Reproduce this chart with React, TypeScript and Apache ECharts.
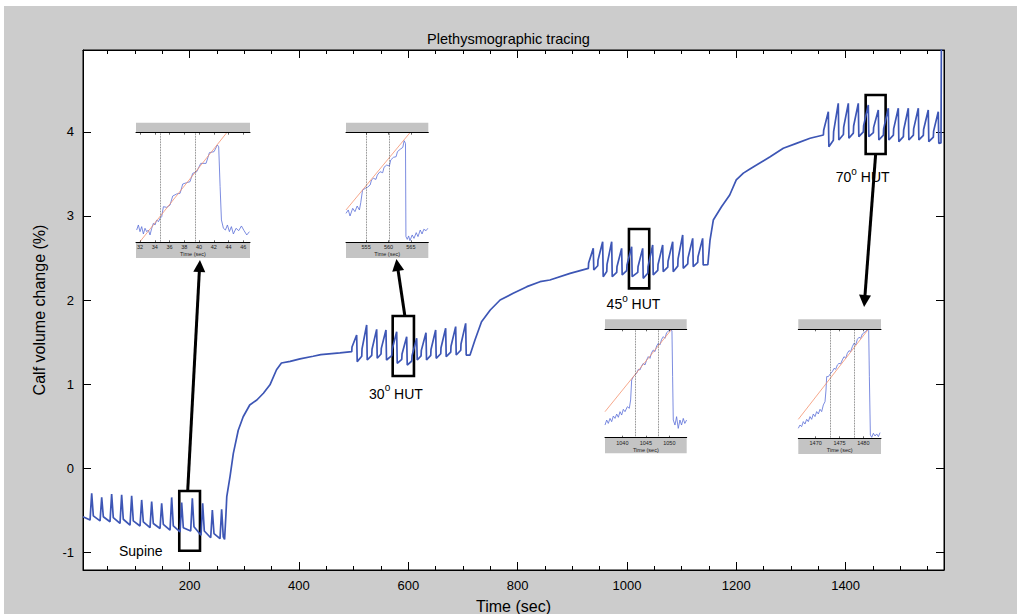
import React, { useEffect, useRef } from "react";
import * as echarts from "echarts";

type Pt = [number, number];

const FONT = "'Liberation Sans Narrow', 'Liberation Sans', Arial, sans-serif";
const FONT_REG = "'Liberation Sans', Arial, sans-serif";

// ---- main axes ----
const xRange: Pt = [5, 1580];
const yRange: Pt = [-1.214, 4.976];
const xTickLabels = [200, 400, 600, 800, 1000, 1200, 1400];
const xMinorStep = 50;
const xMinorRange: Pt = [50, 1580];
const yTickLabels = [-1, 0, 1, 2, 3, 4];

// ---- main trace (time s, calf volume change %) ----
const supineTrace: Pt[] = [
  [5, -0.58],
  [17.9, -0.62], [20.9, -0.30], [23.9, -0.57],
  [36.2, -0.63], [39.2, -0.35], [42.2, -0.58],
  [54.4, -0.64], [57.4, -0.31], [60.4, -0.59],
  [72.7, -0.66], [75.7, -0.32], [78.7, -0.61],
  [91.0, -0.68], [94.0, -0.33], [97.0, -0.63],
  [109.3, -0.69], [112.3, -0.38], [115.3, -0.64],
  [127.6, -0.71], [130.6, -0.40], [133.6, -0.66],
  [145.9, -0.72], [148.9, -0.42], [151.9, -0.67],
  [164.2, -0.74], [167.2, -0.35], [170.2, -0.69],
  [182.5, -0.76], [185.5, -0.41], [188.5, -0.71],
  [202.0, -0.75], [205.0, -0.36], [208.0, -0.70],
  [220.9, -0.80], [223.9, -0.42], [226.9, -0.75],
  [238.6, -0.83], [241.6, -0.50], [244.6, -0.78],
  [255.6, -0.84], [258.6, -0.49], [261.6, -0.82],
  [264.0, -0.85],
];
const riseTo30: Pt[] = [
  [266.5, -0.55], [268, -0.34], [274, -0.10], [280, 0.175], [289, 0.45], [298, 0.61], [310, 0.75],
  [323, 0.81], [335, 0.89], [347, 0.99], [359, 1.17], [368, 1.25], [384, 1.27], [402, 1.30],
  [426, 1.33], [440, 1.35], [475, 1.37], [496.6, 1.385],
];
const hut30Trace: Pt[] = [
  [497.1, 1.44], [505.6, 1.583], [506.6, 1.266],
  [514.9, 1.331], [515.4, 1.419], [523.9, 1.702], [524.9, 1.286],
  [533.2, 1.341], [533.7, 1.414], [542.2, 1.651], [543.2, 1.306],
  [550.2, 1.357], [550.7, 1.424], [559.2, 1.643], [560.2, 1.286],
  [569.8, 1.337], [570.3, 1.404], [578.8, 1.623], [579.8, 1.246],
  [588.1, 1.294], [588.6, 1.357], [597.1, 1.563], [598.1, 1.226],
  [606.4, 1.274], [606.9, 1.337], [615.4, 1.544], [616.4, 1.286],
  [623.4, 1.335], [623.9, 1.400], [632.4, 1.611], [633.4, 1.286],
  [641.1, 1.340], [641.6, 1.411], [650.1, 1.643], [651.1, 1.306],
  [659.4, 1.360], [659.9, 1.431], [668.4, 1.663], [669.4, 1.325],
  [677.7, 1.379], [678.2, 1.450], [686.7, 1.683], [687.7, 1.345],
  [696.0, 1.402], [696.5, 1.477], [705.0, 1.722], [706.0, 1.345],
];
const riseTo45: Pt[] = [
  [713, 1.345], [722, 1.524], [734, 1.742], [750, 1.881], [768, 2.0], [792, 2.08], [817, 2.159],
  [841, 2.218], [859, 2.238], [896, 2.317], [929.4, 2.377],
];
const hut45Trace: Pt[] = [
  [929.9, 2.44], [938.4, 2.615], [939.4, 2.357],
  [946.6, 2.408], [947.1, 2.475], [955.6, 2.694], [956.6, 2.278],
  [963.1, 2.340], [963.6, 2.424], [972.1, 2.694], [973.1, 2.278],
  [981.3, 2.329], [981.8, 2.396], [990.3, 2.615], [991.3, 2.298],
  [999.6, 2.349], [1000.1, 2.416], [1008.6, 2.635], [1009.6, 2.278],
  [1019.8, 2.329], [1020.3, 2.396], [1028.8, 2.615], [1029.8, 2.258],
  [1038.1, 2.318], [1038.6, 2.397], [1047.1, 2.655], [1048.1, 2.298],
  [1056.4, 2.352], [1056.9, 2.423], [1065.4, 2.655], [1066.4, 2.337],
  [1074.7, 2.391], [1075.2, 2.462], [1083.7, 2.694], [1084.7, 2.337],
  [1093.0, 2.403], [1093.5, 2.490], [1102.0, 2.774], [1103.0, 2.377],
  [1111.3, 2.431], [1111.8, 2.502], [1120.3, 2.734], [1121.3, 2.397],
  [1129.5, 2.448], [1130.0, 2.515], [1138.5, 2.734], [1139.5, 2.417],
];
const riseTo70: Pt[] = [
  [1148, 2.42], [1152, 2.714], [1158, 2.952], [1173, 3.11], [1188, 3.25], [1200, 3.43], [1213, 3.51],
  [1225, 3.56], [1237, 3.607], [1262, 3.706], [1286, 3.806], [1310, 3.865], [1335, 3.925], [1359.4, 3.964],
];
const hut70Trace: Pt[] = [
  [1359.9, 4.02], [1368.4, 4.242], [1369.4, 3.825],
  [1377.6, 3.902], [1378.1, 4.005], [1386.6, 4.341], [1387.6, 3.905],
  [1396.0, 3.970], [1396.5, 4.058], [1405.0, 4.341], [1406.0, 3.925],
  [1414.2, 3.987], [1414.7, 4.071], [1423.2, 4.341], [1424.2, 3.944],
  [1432.5, 4.001], [1433.0, 4.076], [1441.5, 4.321], [1442.5, 3.944],
  [1450.8, 3.992], [1451.3, 4.055], [1459.8, 4.262], [1460.8, 3.905],
  [1469.1, 3.962], [1469.6, 4.037], [1478.1, 4.282], [1479.1, 3.905],
  [1487.4, 3.962], [1487.9, 4.037], [1496.4, 4.282], [1497.4, 3.885],
  [1505.7, 3.945], [1506.2, 4.024], [1514.7, 4.282], [1515.7, 3.905],
  [1524.0, 3.962], [1524.5, 4.037], [1533.0, 4.282], [1534.0, 3.905],
  [1542.2, 3.959], [1542.7, 4.030], [1551.2, 4.262], [1552.2, 3.885],
  [1560.5, 3.939], [1561.0, 4.010], [1569.5, 4.242], [1570.5, 3.865],
  [1574.5, 3.87], [1575.5, 5.5],
];

// ---- annotations (data coordinates of the main plot) ----
const zoomBoxes = [
  { t: [181.1, 219.0], v: [-0.985, -0.274] },
  { t: [571.5, 610.4], v: [1.095, 1.81] },
  { t: [1003.7, 1040.8], v: [2.139, 2.845] },
  { t: [1436.7, 1473.2], v: [3.738, 4.44] },
];
const arrows = [
  { from: [196.5, -0.274], to: [218.3, 2.405] },
  { from: [594.0, 1.80], to: [579.9, 2.417] },
  { from: [1455.0, 3.74], to: [1434.7, 1.988] },
];
const stageLabels = [
  { at: [110.7, -0.964], main: "Supine", deg: "", rest: "" },
  { at: [577.5, 0.905], main: "30", deg: "o", rest: " HUT" },
  { at: [1012.0, 1.976], main: "45", deg: "o", rest: " HUT" },
  { at: [1431.2, 3.488], main: "70", deg: "o", rest: " HUT" },
];

// ---- insets (time s, arbitrary volume units 0-100) ----
const inset1Range: Pt = [31.46, 46.9];
const inset1Ticks = [32, 34, 36, 38, 40, 42, 44, 46];
const inset1Cursors = [34.7, 39.5];
const inset1Fit: Pt[] = [[32.0, 0.6], [43.75, 100]];
const inset1Trace: Pt[] = [
  [31.55, 11.2], [31.78, 15.8], [32.0, 9.7], [32.23, 14.3], [32.46, 7.6], [32.68, 12.8], [32.91, 9.7],
  [33.13, 11.2], [33.36, 6.7], [33.59, 12.8], [33.81, 17.3], [34.04, 15.8], [34.26, 20.4], [34.49, 18.8],
  [34.72, 21.9], [34.94, 23.4], [35.17, 32.5], [35.62, 31.9], [36.07, 34.0], [36.43, 42.2], [36.97, 44.1],
  [37.43, 44.7], [37.79, 53.2], [38.33, 54.4], [38.78, 55.3], [39.14, 62.9], [39.68, 64.4], [40.23, 72.0],
  [40.95, 72.0], [41.4, 81.8], [42.03, 82.7], [42.48, 88.8], [42.66, 87.2], [42.85, 50.8], [43.03, 20.4],
  [43.3, 12.8], [43.57, 11.2], [43.84, 15.8], [44.11, 9.7], [44.38, 14.3], [44.65, 7.6], [45.01, 12.8],
  [45.37, 10.6], [45.74, 14.9], [46.1, 10.6], [46.46, 6.7], [46.82, 9.7],
];

const inset2Range: Pt = [550.5, 568.9];
const inset2Ticks = [555, 560, 565];
const inset2Cursors = [555.0, 560.2];
const inset2Fit: Pt[] = [[550.5, 29.5], [564.8, 100]];
const inset2Trace: Pt[] = [
  [550.5, 26.4], [551.0, 29.5], [551.4, 24.0], [552.0, 31.0], [552.5, 28.0], [553.0, 33.1], [553.5, 29.5],
  [553.8, 36.2], [554.2, 47.7], [554.8, 49.2], [555.3, 50.2], [555.9, 52.3], [556.2, 56.8], [556.6, 58.4],
  [557.2, 57.4], [557.5, 61.4], [558.1, 64.4], [558.7, 63.5], [559.0, 68.4], [559.6, 70.5], [560.2, 69.6],
  [560.5, 75.1], [561.1, 77.5], [561.7, 78.1], [562.0, 82.7], [562.6, 84.8], [563.2, 86.6], [563.5, 92.7],
  [563.8, 90.3], [563.9, 5.2], [564.2, 2.7], [564.5, 5.8], [564.8, 1.5], [565.3, 6.7], [565.7, 3.6],
  [566.2, 8.8], [566.6, 5.2], [567.1, 11.2], [567.5, 7.6], [567.9, 11.9], [568.4, 10.6], [568.8, 12.8],
];

const inset3Range: Pt = [1036.3, 1053.7];
const inset3Ticks = [1040, 1045, 1050];
const inset3Cursors = [1042.7, 1047.65];
const inset3Fit: Pt[] = [[1036.3, 24.0], [1050.5, 100]];
const inset3Trace: Pt[] = [
  [1036.3, 11.7], [1036.66, 16.3], [1037.0, 13.2], [1037.37, 17.8], [1037.72, 14.8], [1038.08, 20.0],
  [1038.43, 17.8], [1038.79, 21.8], [1039.14, 18.8], [1039.5, 24.0], [1039.85, 20.9], [1040.2, 26.2],
  [1040.56, 24.0], [1041.06, 28.6], [1041.48, 27.1], [1041.76, 34.8], [1041.98, 53.2], [1042.33, 56.3],
  [1042.69, 57.8], [1043.04, 59.4], [1043.4, 63.1], [1043.75, 62.5], [1044.1, 66.2], [1044.46, 68.6],
  [1044.81, 67.1], [1045.17, 71.7], [1045.52, 74.8], [1045.88, 73.2], [1046.23, 78.5], [1046.59, 80.9],
  [1046.94, 79.4], [1047.3, 84.6], [1047.65, 87.1], [1048.0, 85.5], [1048.36, 90.8], [1048.72, 93.2],
  [1049.07, 91.7], [1049.42, 96.9], [1049.92, 98.8], [1050.28, 99.4], [1050.56, 98.8], [1050.7, 56.3],
  [1050.84, 16.3], [1051.2, 11.7], [1051.55, 19.4], [1051.9, 8.6], [1052.26, 16.3], [1052.6, 11.7],
  [1052.97, 17.8], [1053.3, 13.2], [1053.68, 16.3],
];

const inset4Range: Pt = [1466.36, 1483.7];
const inset4Ticks = [1470, 1475, 1480];
const inset4Cursors = [1473.15, 1478.1];
const inset4Fit: Pt[] = [[1466.36, 17.4], [1481.05, 100]];
const inset4Trace: Pt[] = [
  [1466.36, 9.2], [1466.71, 12.2], [1467.06, 10.7], [1467.41, 15.3], [1467.76, 13.1], [1468.11, 17.4],
  [1468.46, 15.3], [1468.81, 19.9], [1469.16, 17.4], [1469.51, 22.3], [1469.86, 19.9], [1470.21, 24.5],
  [1470.56, 22.3], [1470.91, 26.6], [1471.26, 24.5], [1471.61, 30.6], [1471.96, 33.6], [1472.17, 44.3],
  [1472.31, 56.6], [1472.66, 56.6], [1473.15, 59.6], [1473.5, 61.2], [1473.85, 64.2], [1474.2, 63.3],
  [1474.55, 67.3], [1474.9, 68.8], [1475.24, 68.2], [1475.59, 71.9], [1475.94, 74.9], [1476.29, 73.4],
  [1476.64, 78.0], [1476.99, 80.4], [1477.34, 79.5], [1477.69, 84.1], [1478.04, 87.2], [1478.39, 85.6],
  [1478.74, 90.8], [1479.09, 92.7], [1479.44, 91.7], [1479.79, 95.7], [1480.14, 96.9], [1480.49, 97.9],
  [1480.91, 100], [1481.12, 98.8], [1481.26, 56.6], [1481.47, 3.1], [1481.75, 0.9], [1482.1, 4.6],
  [1482.45, 2.1], [1482.8, 4.0], [1483.15, 1.5], [1483.5, 5.2],
];

// ---- layout (pixels) ----
const MAIN = { left: 83, top: 50, width: 861, height: 520 };
const insetLayout = [
  { left: 136, width: 114, top: 122.7, plotTop: 132.7, plotBottom: 242.3, bottom: 258 },
  { left: 346, width: 82.3, top: 122.7, plotTop: 132.7, plotBottom: 242.3, bottom: 258 },
  { left: 605, width: 81.7, top: 319.3, plotTop: 329.3, plotBottom: 437.7, bottom: 453.3 },
  { left: 798.3, width: 82.7, top: 319.3, plotTop: 329.3, plotBottom: 438.3, bottom: 454 },
];

const plain = (v: number) => String(v);

export default function App() {
  const ref = useRef<HTMLDivElement>(null);

  useEffect(() => {
    if (!ref.current) return;
    const chart = echarts.init(ref.current, undefined, { renderer: "svg" });

    const mainTrace: Pt[] = [
      ...supineTrace, ...riseTo30, ...hut30Trace, ...riseTo45, ...hut45Trace, ...riseTo70, ...hut70Trace,
    ];

    const insets = [
      { trace: inset1Trace, fit: inset1Fit, cursors: inset1Cursors, ticks: inset1Ticks, range: inset1Range },
      { trace: inset2Trace, fit: inset2Fit, cursors: inset2Cursors, ticks: inset2Ticks, range: inset2Range },
      { trace: inset3Trace, fit: inset3Fit, cursors: inset3Cursors, ticks: inset3Ticks, range: inset3Range },
      { trace: inset4Trace, fit: inset4Fit, cursors: inset4Cursors, ticks: inset4Ticks, range: inset4Range },
    ];

    const black = { color: "#000", width: 1 };
    const pxPerSec = MAIN.width / (xRange[1] - xRange[0]);
    const minorLeft = MAIN.left + (xMinorRange[0] - xRange[0]) * pxPerSec;

    const grids: any[] = [
      { ...MAIN, show: true, backgroundColor: "#fff", borderColor: "#000", borderWidth: 1, outerBoundsMode: "none", containLabel: false },
      {
        left: minorLeft, top: MAIN.top, width: MAIN.left + MAIN.width - minorLeft, height: MAIN.height,
        show: false, outerBoundsMode: "none", containLabel: false,
      },
    ];

    const xAxes: any[] = [
      {
        type: "value", gridIndex: 0, position: "bottom", min: xRange[0], max: xRange[1],
        axisLine: { onZero: false, lineStyle: black },
        axisTick: { inside: true, length: 8, customValues: xTickLabels, lineStyle: black },
        axisLabel: { customValues: xTickLabels, formatter: plain, fontSize: 13, color: "#000", margin: 9, fontFamily: FONT },
        splitLine: { show: false },
        name: "Time (sec)", nameLocation: "middle", nameGap: 28,
        nameTextStyle: { fontSize: 16, color: "#000", fontFamily: FONT_REG },
      },
      {
        type: "value", gridIndex: 0, position: "top", min: xRange[0], max: xRange[1],
        axisLine: { onZero: false, lineStyle: black },
        axisTick: { inside: true, length: 8, customValues: xTickLabels, lineStyle: black },
        axisLabel: { show: false }, splitLine: { show: false },
      },
      {
        type: "value", gridIndex: 1, position: "bottom", min: xMinorRange[0], max: xMinorRange[1], interval: xMinorStep, z: 6,
        axisLine: { show: false, onZero: false },
        axisTick: { show: true, inside: true, length: 4, lineStyle: black },
        axisLabel: { show: false }, splitLine: { show: false },
      },
      {
        type: "value", gridIndex: 1, position: "top", min: xMinorRange[0], max: xMinorRange[1], interval: xMinorStep, z: 6,
        axisLine: { show: false, onZero: false },
        axisTick: { show: true, inside: true, length: 4, lineStyle: black },
        axisLabel: { show: false }, splitLine: { show: false },
      },
    ];

    const yAxes: any[] = [
      {
        type: "value", gridIndex: 0, position: "left", min: yRange[0], max: yRange[1],
        axisLine: { onZero: false, lineStyle: black },
        axisTick: { inside: true, length: 8, customValues: yTickLabels, lineStyle: black },
        axisLabel: { customValues: yTickLabels, formatter: plain, fontSize: 13, color: "#000", margin: 9, fontFamily: FONT },
        splitLine: { show: false },
        name: "Calf volume change (%)", nameLocation: "middle", nameGap: 36, nameRotate: 90,
        nameTextStyle: { fontSize: 16, color: "#000", fontFamily: FONT_REG },
      },
      {
        type: "value", gridIndex: 0, position: "right", min: yRange[0], max: yRange[1],
        axisLine: { onZero: false, lineStyle: black },
        axisTick: { inside: true, length: 8, customValues: yTickLabels, lineStyle: black },
        axisLabel: { show: false }, splitLine: { show: false },
      },
      {
        type: "value", gridIndex: 1, min: yRange[0], max: yRange[1],
        axisLine: { show: false, onZero: false }, axisTick: { show: false }, axisLabel: { show: false }, splitLine: { show: false },
      },
    ];

    const series: any[] = [
      {
        type: "line",
        xAxisIndex: 0,
        yAxisIndex: 0,
        data: mainTrace,
        symbol: "none",
        clip: true,
        lineStyle: { color: "#3d56b5", width: 1.7 },
        z: 2,
        markArea: {
          silent: true,
          label: { show: false },
          itemStyle: { color: "rgba(0,0,0,0)", borderColor: "#000", borderWidth: 2.6 },
          data: zoomBoxes.map((b) => [{ coord: [b.t[0], b.v[1]] }, { coord: [b.t[1], b.v[0]] }]),
        },
        markLine: {
          silent: true,
          animation: false,
          label: { show: false },
          lineStyle: { color: "#000", width: 3, type: "solid" },
          data: arrows.map((a) => [
            { coord: a.from, symbol: "none" },
            { coord: a.to, symbol: "triangle", symbolSize: [12, 12] },
          ]),
        },
        markPoint: {
          silent: true,
          animation: false,
          data: stageLabels.map((l) => ({
            coord: l.at,
            symbol: "circle",
            symbolSize: 1,
            itemStyle: { color: "rgba(0,0,0,0)" },
            label: {
              show: true,
              position: "inside",
              formatter: l.deg ? `{n|${l.main}}{s|${l.deg}}{n|${l.rest}}` : `{n|${l.main}}`,
              rich: {
                n: { fontSize: 14, fontFamily: FONT_REG, color: "#000", lineHeight: 18, verticalAlign: "bottom" },
                s: { fontSize: 10, fontFamily: FONT_REG, color: "#000", lineHeight: 10, verticalAlign: "top" },
              },
            },
          })),
        },
      },
    ];

    const graphics: any[] = [
      {
        type: "rect", silent: true, z: -10,
        shape: { x: 4, y: 6, width: 1013, height: 608 },
        style: { fill: "#cccccc" },
      },
    ];

    insets.forEach((ins, k) => {
      const L = insetLayout[k];
      const g = k + 2;
      grids.push({
        left: L.left, top: L.plotTop, width: L.width, height: L.plotBottom - L.plotTop,
        show: true, backgroundColor: "#fff", borderWidth: 0, outerBoundsMode: "none", containLabel: false,
      });
      xAxes.push({
        type: "value", gridIndex: g, position: "bottom", min: ins.range[0], max: ins.range[1], z: 10,
        axisLine: { onZero: false, lineStyle: { color: "#000", width: 1 } },
        axisTick: { inside: true, length: 2, customValues: ins.ticks, lineStyle: { color: "#000", width: 0.6 } },
        axisLabel: { customValues: ins.ticks, formatter: plain, fontSize: 5.5, margin: 2, color: "#222", fontFamily: FONT_REG },
        splitLine: { show: false },
        name: "Time (sec)", nameLocation: "middle", nameGap: 9,
        nameTextStyle: { fontSize: 5.5, color: "#222", fontFamily: FONT_REG },
      });
      xAxes.push({
        type: "value", gridIndex: g, position: "top", min: ins.range[0], max: ins.range[1], z: 10,
        axisLine: { onZero: false, lineStyle: { color: "#000", width: 1 } },
        axisTick: { inside: true, length: 2, customValues: ins.ticks, lineStyle: { color: "#000", width: 0.6 } },
        axisLabel: { show: false }, splitLine: { show: false },
      });
      yAxes.push({ type: "value", gridIndex: g, min: 0, max: 100, show: false });
      const xi = 4 + 2 * k;
      const yi = 3 + k;
      series.push({
        type: "line", xAxisIndex: xi, yAxisIndex: yi, data: ins.trace, symbol: "none", clip: true,
        lineStyle: { color: "#5b6fd8", width: 0.8 },
        markLine: {
          silent: true, symbol: ["none", "none"], label: { show: false },
          lineStyle: { type: "dotted", color: "#555", width: 0.8 },
          data: ins.cursors.map((c) => ({ xAxis: c })),
        },
      });
      series.push({
        type: "line", xAxisIndex: xi, yAxisIndex: yi, data: ins.fit, symbol: "none", clip: true,
        lineStyle: { color: "#f4926e", width: 0.8 },
      });
      graphics.push({
        type: "rect", silent: true, z: 3,
        shape: { x: L.left, y: L.top, width: L.width, height: L.plotTop - L.top },
        style: { fill: "#c4c4c4" },
      });
      graphics.push({
        type: "rect", silent: true, z: 3,
        shape: { x: L.left, y: L.plotBottom, width: L.width, height: L.bottom - L.plotBottom },
        style: { fill: "#c4c4c4" },
      });
    });

    chart.setOption({
      animation: false,
      title: {
        text: "Plethysmographic tracing",
        left: "center",
        top: 26,
        textStyle: { fontSize: 14.5, fontWeight: "normal", color: "#000", fontFamily: FONT },
      },
      grid: grids,
      xAxis: xAxes,
      yAxis: yAxes,
      series,
      graphic: graphics,
    });

    return () => chart.dispose();
  }, []);

  return (
    <div
      ref={ref}
      style={{ position: "absolute", left: 0, top: 0, width: 1017, height: 614, background: "#fff" }}
    />
  );
}
